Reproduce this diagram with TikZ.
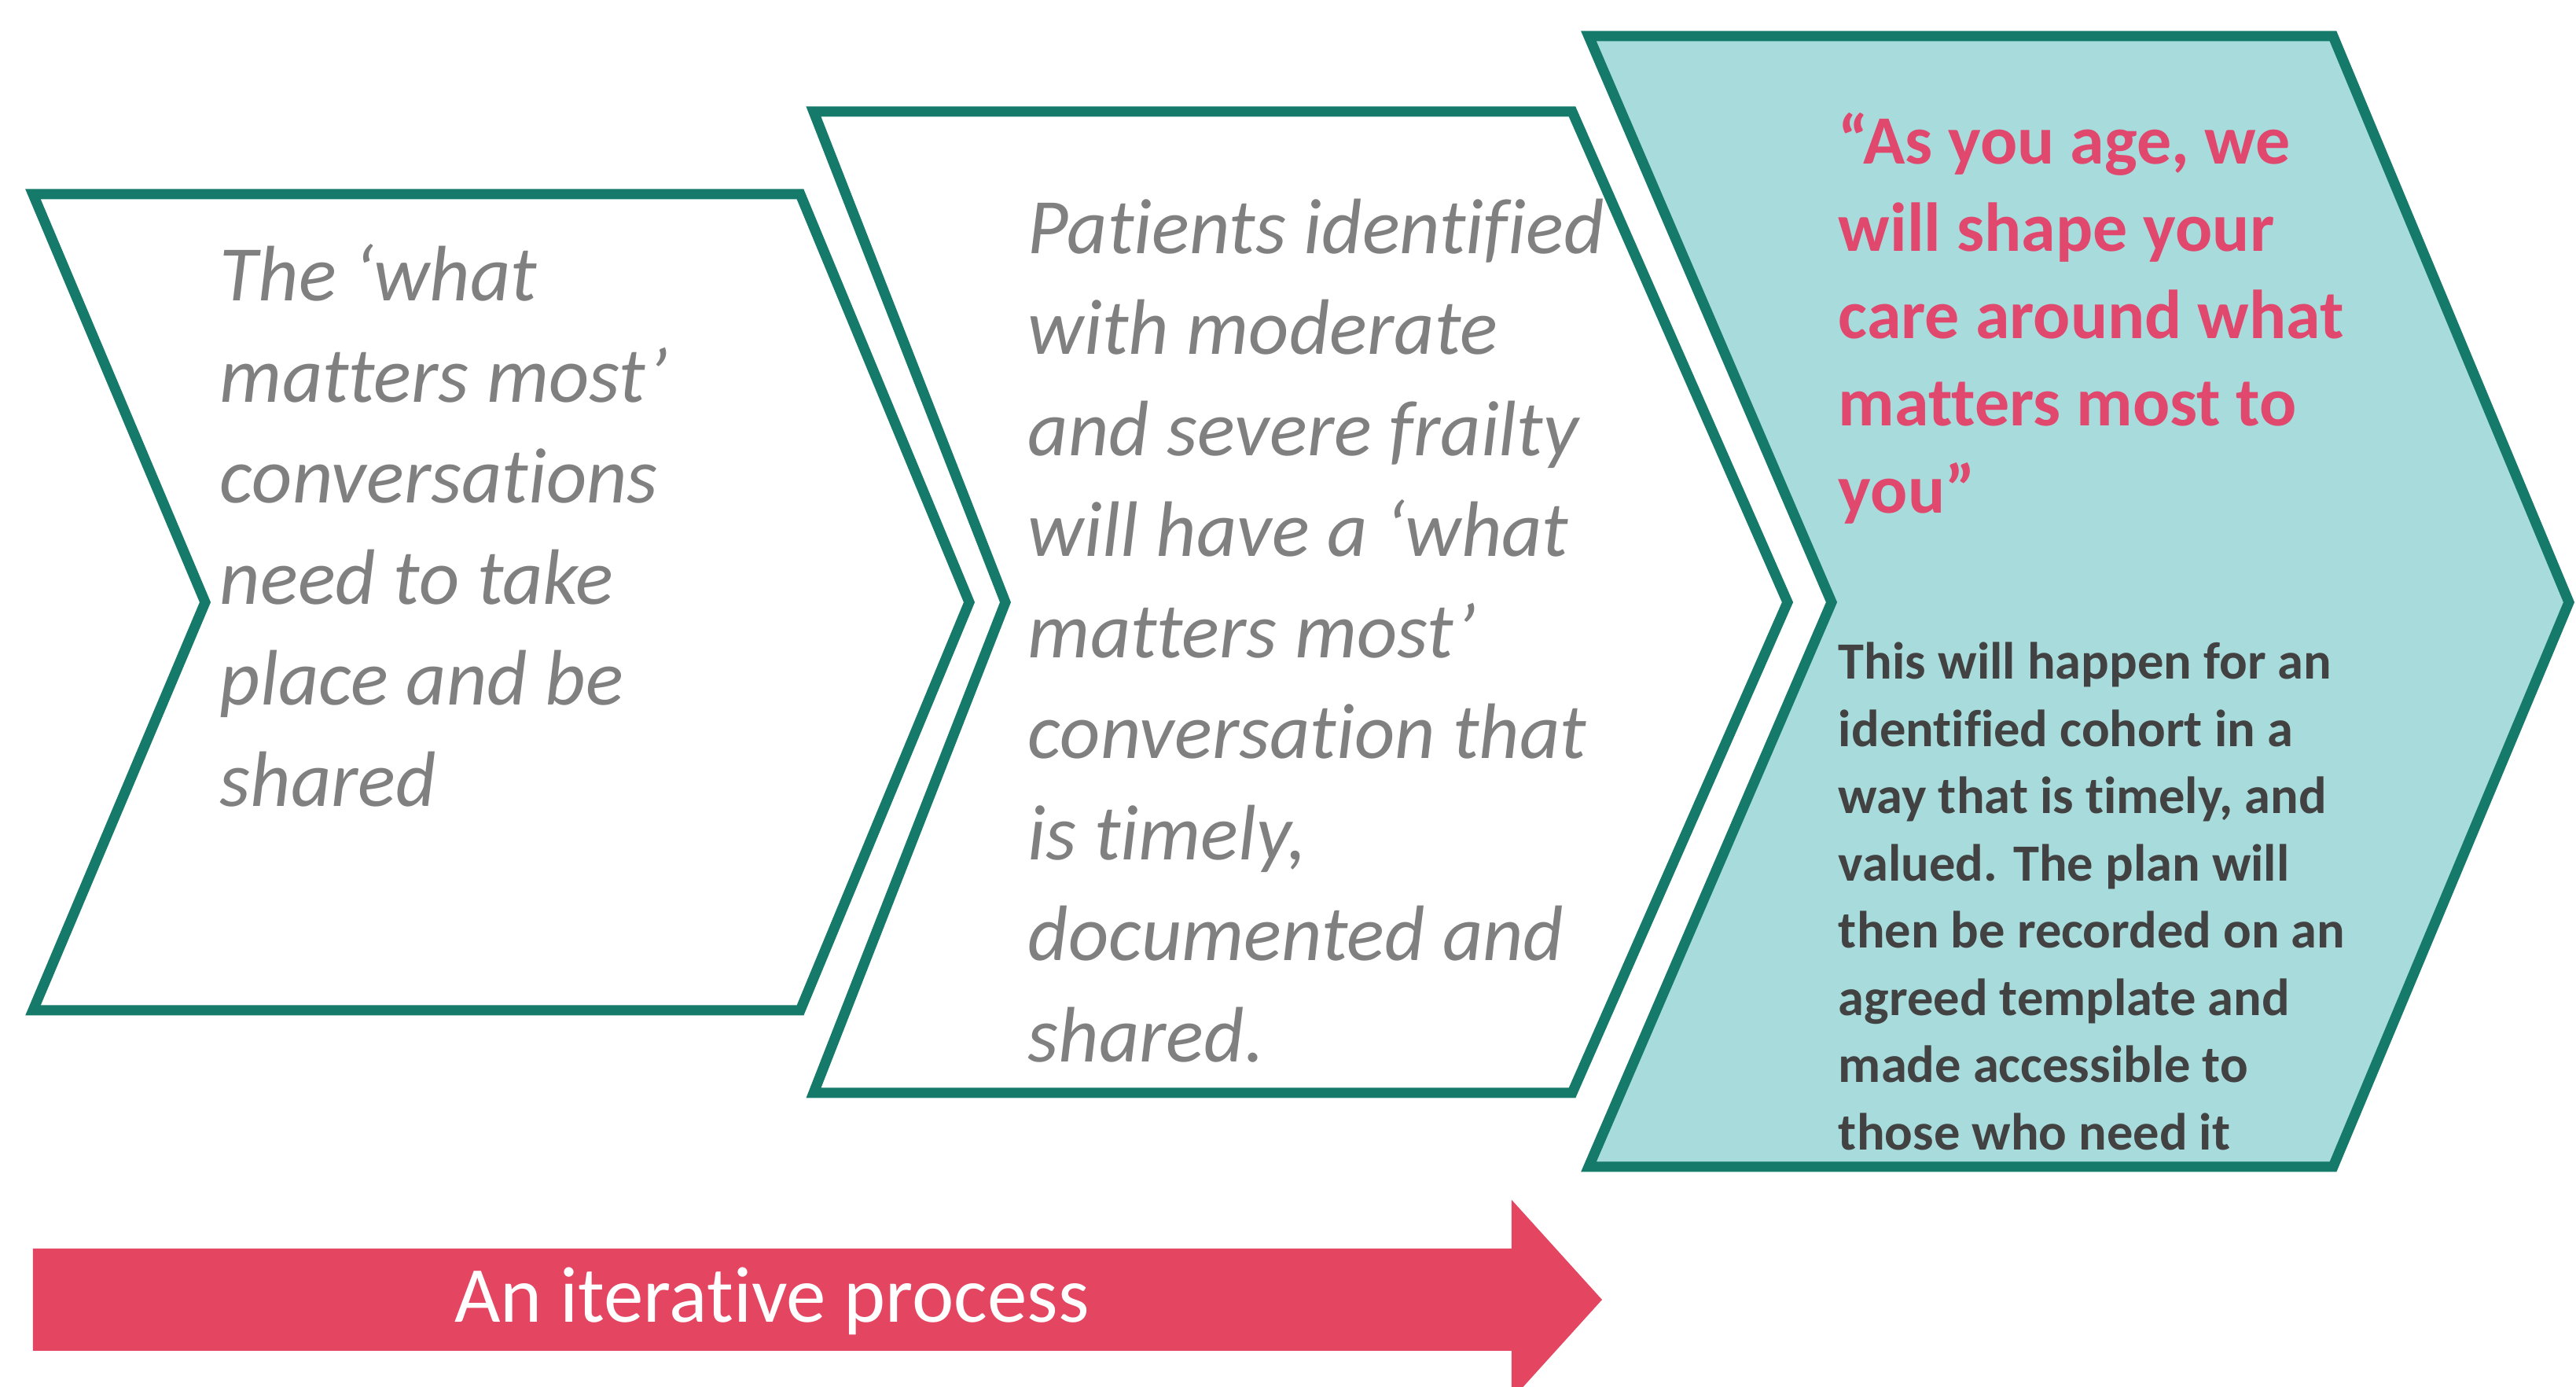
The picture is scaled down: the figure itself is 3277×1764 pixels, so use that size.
\documentclass[tikz,border=0pt]{standalone}
\usepackage{fontspec}
\setmainfont[Ligatures=NoCommon]{Carlito}
\definecolor{tealline}{RGB}{22,122,106}
\definecolor{tealfill}{RGB}{168,220,220}
\definecolor{pinkarrow}{RGB}{228,70,98}
\definecolor{pinktext}{RGB}{224,72,110}
\definecolor{graytext}{RGB}{128,128,128}
\definecolor{darktext}{RGB}{66,66,66}
\begin{document}
\begin{tikzpicture}[x=0.1pt,y=-0.1pt,
  chev/.style={draw=tealline,line width=1.3pt,line join=miter},
  graybody/.style={anchor=north west,inner sep=0pt,align=left,text=graytext,
    font=\fontsize{10}{12.85}\selectfont\itshape},
  quote/.style={anchor=north west,inner sep=0pt,align=left,text=pinktext,
    font=\fontsize{8.8}{11.1}\selectfont\bfseries},
  smallbody/.style={anchor=north west,inner sep=0pt,align=left,text=darktext,
    font=\fontsize{6.65}{8.55}\selectfont\bfseries},
  arrowlabel/.style={text=white,inner sep=0pt,font=\fontsize{10.1}{12}\selectfont}]
\useasboundingbox (0,0) rectangle (3277,1764);
\clip (0,0) rectangle (3277,1764);
\fill[white] (0,0) rectangle (3277,1764);
% chevrons
\draw[chev,fill=white] (42,247) -- (1018,247) -- (1233,766) -- (1018,1285) -- (42,1285) -- (261,766) -- cycle;
\draw[chev,fill=white] (1035,142) -- (2000,142) -- (2274,766) -- (2000,1390) -- (1035,1390) -- (1279,766) -- cycle;
\draw[chev,fill=tealfill] (2021,46) -- (2968,46) -- (3268,766) -- (2968,1484) -- (2021,1484) -- (2330,766) -- cycle;
% texts
\node[graybody] (t1) at (278,309) {The ‘what\\matters most’\\conversations\\need to take\\place and be\\shared};
\node[graybody] (t2) at (1306,251) {Patients identified\\with moderate\\and severe frailty\\will have a ‘what\\matters most’\\conversation that\\is timely,\\documented and\\shared.};
\node[quote] (t3) at (2337,142) {“As you age, we\\will shape your\\care around what\\matters most to\\you”};
\node[smallbody] (t4) at (2337,815) {This will happen for an\\identified cohort in a\\way that is timely, and\\valued. The plan will\\then be recorded on an\\agreed template and\\made accessible to\\those who need it};
% arrow
\fill[pinkarrow] (42,1588) -- (1923,1588) -- (1923,1526) -- (2038,1653) -- (1923,1780) -- (1923,1718) -- (42,1718) -- cycle;
\node[arrowlabel] (arrowtxt) at (982,1655) {An iterative process};
\end{tikzpicture}
\end{document}
